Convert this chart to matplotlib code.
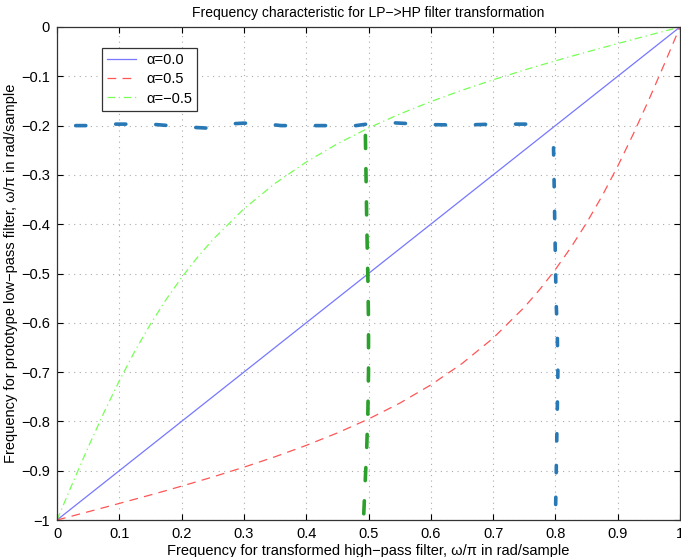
import matplotlib
matplotlib.use("Agg")
import matplotlib.pyplot as plt

plt.rcParams['font.family'] = ['Liberation Sans', 'DejaVu Sans']
plt.rcParams['mathtext.fontset'] = 'dejavusans'

# Frequency axis (transformed high-pass filter, omega/pi)
x = [0.000, 0.025, 0.050, 0.075, 0.100, 0.125, 0.150, 0.175, 0.200, 0.225, 0.250,
     0.300, 0.350, 0.400, 0.450, 0.500, 0.550, 0.600, 0.650, 0.700, 0.750,
     0.775, 0.800, 0.825, 0.850, 0.875, 0.900, 0.925, 0.950, 0.975, 1.000]
y_a0 = [-1.000, -0.975, -0.950, -0.925, -0.900, -0.875, -0.850, -0.825, -0.800, -0.775, -0.750,
        -0.700, -0.650, -0.600, -0.550, -0.500, -0.450, -0.400, -0.350, -0.300, -0.250,
        -0.225, -0.200, -0.175, -0.150, -0.125, -0.100, -0.075, -0.050, -0.025, 0.000]
y_a05 = [-1.0000, -0.9917, -0.9833, -0.9749, -0.9664, -0.9578, -0.9492, -0.9404,
         -0.9313, -0.9221, -0.9127, -0.8929, -0.8717, -0.8487, -0.8234, -0.7952,
         -0.7631, -0.7261, -0.6828, -0.6312, -0.5686, -0.5322, -0.4918, -0.4470,
         -0.3974, -0.3426, -0.2824, -0.2171, -0.1476, -0.0747, 0.0000]
y_am05 = [-1.0000, -0.9253, -0.8524, -0.7829, -0.7176, -0.6574, -0.6026, -0.5530,
          -0.5082, -0.4678, -0.4314, -0.3688, -0.3172, -0.2739, -0.2369, -0.2048,
          -0.1766, -0.1513, -0.1283, -0.1071, -0.0873, -0.0779, -0.0687, -0.0596,
          -0.0508, -0.0422, -0.0336, -0.0251, -0.0167, -0.0083, 0.0000]

# Hand-drawn overlay marks
h_x = [0.03, 0.06, 0.09, 0.12, 0.15, 0.18, 0.21, 0.24, 0.27, 0.30, 0.33, 0.36,
       0.40, 0.44, 0.48, 0.52, 0.55, 0.60, 0.65, 0.70, 0.74, 0.77, 0.80]
h_y = [-0.200, -0.200, -0.197, -0.197, -0.197, -0.200, -0.203, -0.205, -0.197, -0.195,
       -0.196, -0.200, -0.200, -0.200, -0.200, -0.193, -0.195, -0.198, -0.199, -0.197,
       -0.197, -0.197, -0.200]
g_x = [0.495, 0.496, 0.497, 0.498, 0.499, 0.500, 0.500, 0.499, 0.497, 0.494, 0.492]
g_y = [-0.22, -0.30, -0.38, -0.45, -0.51, -0.60, -0.70, -0.78, -0.86, -0.94, -1.00]
b_x = [0.797, 0.798, 0.799, 0.800, 0.801, 0.803, 0.804, 0.803, 0.802, 0.801, 0.800]
b_y = [-0.245, -0.32, -0.40, -0.47, -0.55, -0.62, -0.70, -0.78, -0.85, -0.93, -1.00]

xticks = [0, 0.1, 0.2, 0.3, 0.4, 0.5, 0.6, 0.7, 0.8, 0.9, 1]
xticklabels = ['0', '0.1', '0.2', '0.3', '0.4', '0.5', '0.6', '0.7', '0.8', '0.9', '1']
yticks = [-1, -0.9, -0.8, -0.7, -0.6, -0.5, -0.4, -0.3, -0.2, -0.1, 0]
yticklabels = ['\u22121', '\u22120.9', '\u22120.8', '\u22120.7', '\u22120.6', '\u22120.5',
               '\u22120.4', '\u22120.3', '\u22120.2', '\u22120.1', '0']

fig = plt.figure(figsize=(6.81, 5.57), dpi=100)
ax = fig.add_axes([57/681, 1 - 520/557, (680 - 57)/681, (520 - 27)/557])

ax.plot(x, y_a0, color='#7777ff', lw=0.9, label='\u03b1=0.0')
ax.plot(x, y_a05, color='#ff5555', lw=0.9, linestyle=(0, (7, 5)), label='\u03b1=0.5')
ax.plot(x, y_am05, color='#77ff55', lw=0.9, linestyle=(0, (6, 3, 1, 3)), label='\u03b1=\u22120.5')

ax.plot(h_x, h_y, color='#2878b5', lw=2.6, linestyle=(0, (2.8, 8.3)), dash_capstyle='round')
ax.plot(g_x, g_y, color='#2ca02c', lw=2.6, linestyle=(0, (3.6, 5.6)), dash_capstyle='round')
ax.plot(b_x, b_y, color='#2878b5', lw=2.6, linestyle=(0, (2.0, 6.8)), dash_capstyle='round')

ax.set_xlim(0, 1)
ax.set_ylim(-1, 0)
ax.set_xticks(xticks)
ax.set_xticklabels(xticklabels)
ax.set_yticks(yticks)
ax.set_yticklabels(yticklabels)
ax.tick_params(direction='in', length=4, labelsize=10.5, top=True, right=True,
               pad=5)
ax.grid(True, color='#aaaaaa', linestyle=(0, (1, 4)), lw=0.8)
for s in ax.spines.values():
    s.set_linewidth(0.9)
    s.set_color('#333333')

ax.set_title('Frequency characteristic for LP\u2212>HP filter transformation', fontsize=10, pad=7)
ax.set_xlabel('Frequency for transformed high\u2212pass filter, \u03c9/\u03c0 in rad/sample',
              fontsize=10.5, labelpad=2)
ax.set_ylabel('Frequency for prototype low\u2212pass filter, \u03c9/\u03c0 in rad/sample',
              fontsize=10.5, labelpad=2)

leg = ax.legend(loc='upper left', bbox_to_anchor=(0.072, 0.957), borderaxespad=0,
                fontsize=10.5, frameon=True, fancybox=False, edgecolor='#333333',
                framealpha=1, handlelength=2.0, borderpad=0.35, labelspacing=0.35,
                handletextpad=0.7)
leg.get_frame().set_linewidth(0.9)

fig.savefig('out.png', dpi=100)
